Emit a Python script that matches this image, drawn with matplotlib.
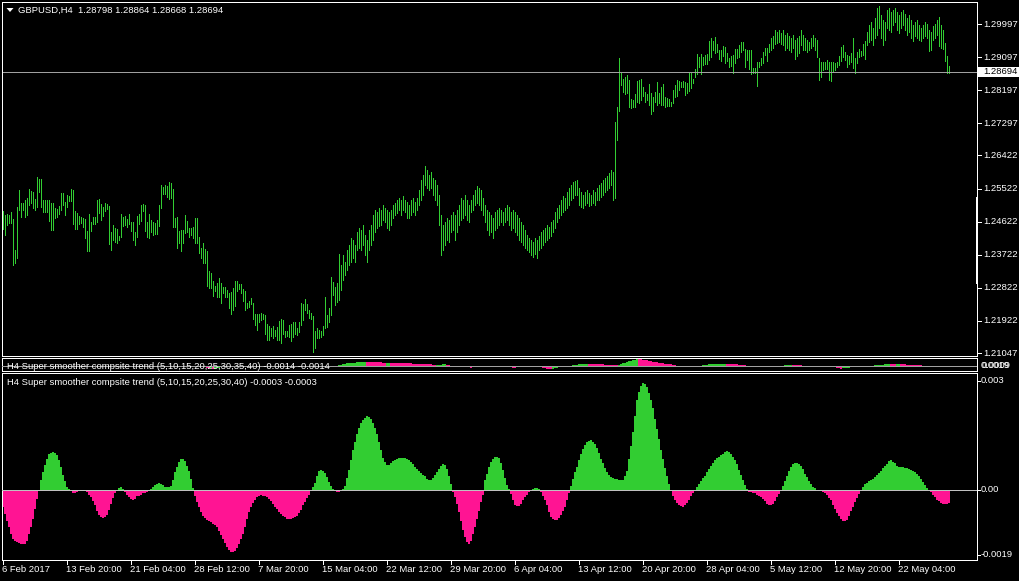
import matplotlib
matplotlib.use("Agg")
import matplotlib.pyplot as plt
from matplotlib.patches import Rectangle, Polygon
from matplotlib.transforms import blended_transform_factory as blend
import numpy as np

# ---------------- data (GBPUSD H4 bars, high/low) ----------------
highs = [
    1.2491,1.2480,1.2483,1.2480,1.2488,1.2469,1.2385,1.2502,1.2548,1.2513,
    1.2513,1.2521,1.2526,1.2551,1.2545,1.2543,1.2524,1.2584,1.2578,1.2578,
    1.2521,1.2521,1.2521,1.2521,1.2513,1.2513,1.2499,1.2497,1.2505,1.2540,
    1.2540,1.2516,1.2535,1.2532,1.2551,1.2548,1.2491,1.2486,1.2477,1.2475,
    1.2472,1.2469,1.2437,1.2483,1.2461,1.2475,1.2475,1.2521,1.2524,1.2510,
    1.2502,1.2513,1.2510,1.2505,1.2434,1.2453,1.2445,1.2442,1.2423,1.2483,
    1.2475,1.2477,1.2469,1.2483,1.2461,1.2461,1.2434,1.2477,1.2483,1.2507,
    1.2510,1.2507,1.2461,1.2483,1.2467,1.2461,1.2458,1.2467,1.2507,1.2562,
    1.2556,1.2562,1.2559,1.2570,1.2567,1.2551,1.2472,1.2475,1.2437,1.2439,
    1.2439,1.2480,1.2464,1.2445,1.2445,1.2448,1.2472,1.2472,1.2420,1.2390,
    1.2404,1.2388,1.2382,1.2328,1.2322,1.2301,1.2287,1.2295,1.2309,1.2295,
    1.2284,1.2284,1.2276,1.2268,1.2271,1.2282,1.2301,1.2301,1.2293,1.2293,
    1.2279,1.2273,1.2241,1.2246,1.2254,1.2241,1.2211,1.2211,1.2211,1.2214,
    1.2211,1.2208,1.2184,1.2178,1.2173,1.2178,1.2167,1.2176,1.2192,1.2197,
    1.2195,1.2165,1.2165,1.2181,1.2184,1.2189,1.2189,1.2173,1.2189,1.2241,
    1.2238,1.2252,1.2238,1.2222,1.2214,1.2205,1.2165,1.2173,1.2167,1.2165,
    1.2178,1.2257,1.2208,1.2227,1.2312,1.2298,1.2284,1.2295,1.2374,
    1.2344,1.2371,1.2352,1.2385,1.2399,1.2418,1.2412,1.2399,1.2434,1.2445,
    1.2439,1.2453,1.2426,1.2412,1.2439,1.2453,1.2480,1.2494,1.2488,1.2499,
    1.2494,1.2507,1.2499,1.2494,1.2488,1.2494,1.2507,1.2513,1.2521,1.2526,
    1.2521,1.2532,1.2521,1.2516,1.2507,1.2521,1.2526,1.2516,1.2526,1.2548,
    1.2575,1.2589,1.2613,1.2603,1.2589,1.2597,1.2581,1.2575,1.2562,1.2535,
    1.2480,1.2453,1.2461,1.2472,1.2467,1.2480,1.2488,1.2480,1.2494,1.2507,
    1.2526,1.2521,1.2535,1.2521,1.2507,1.2521,1.2535,1.2548,1.2559,1.2554,
    1.2548,1.2526,1.2507,1.2494,1.2488,1.2480,1.2472,1.2488,1.2494,1.2499,
    1.2494,1.2488,1.2499,1.2507,1.2502,1.2488,1.2494,1.2488,1.2480,1.2472,
    1.2461,1.2453,1.2439,1.2426,1.2418,1.2412,1.2407,1.2418,1.2412,1.2423,
    1.2434,1.2439,1.2445,1.2453,1.2448,1.2461,1.2467,1.2488,1.2499,1.2507,
    1.2521,1.2532,1.2526,1.2543,1.2554,1.2562,1.2570,1.2573,1.2575,1.2554,
    1.2543,1.2535,1.2543,1.2548,1.2540,1.2535,1.2548,1.2543,1.2554,1.2562,
    1.2567,1.2575,1.2581,1.2586,1.2594,1.2603,1.2597,1.2733,1.2774,1.2907,
    1.2866,1.2850,1.2856,1.2861,1.2847,1.2796,1.2793,1.2809,1.2845,1.2847,
    1.2850,1.2828,1.2815,1.2809,1.2837,1.2812,1.2801,1.2815,1.2842,1.2812,
    1.2828,1.2837,1.2801,1.2798,1.2796,1.2788,1.2820,1.2834,1.2847,1.2845,
    1.2842,1.2845,1.2842,1.2839,1.2866,1.2866,1.2850,1.2877,1.2918,1.2910,
    1.2918,1.2910,1.2915,1.2918,1.2953,1.2962,1.2953,1.2964,1.2945,1.2929,
    1.2929,1.2940,1.2937,1.2921,1.2907,1.2913,1.2915,1.2932,1.2932,1.2943,
    1.2951,1.2951,1.2932,1.2929,1.2929,1.2929,1.2880,1.2880,1.2896,1.2896,
    1.2907,1.2924,1.2934,1.2934,1.2945,1.2962,1.2967,1.2983,1.2978,1.2983,
    1.2975,1.2983,1.2970,1.2975,1.2967,1.2962,1.2970,1.2956,1.2962,1.2967,
    1.2983,1.2970,1.2962,1.2956,1.2951,1.2962,1.2970,1.2962,1.2956,1.2907,
    1.2896,1.2896,1.2896,1.2902,1.2896,1.2896,1.2896,1.2894,1.2896,1.2913,
    1.2937,1.2943,1.2924,1.2915,1.2913,1.2921,1.2962,1.2907,1.2924,1.2932,
    1.2926,1.2945,1.2953,1.2978,1.2997,1.3005,1.2989,1.3016,1.3043,1.3049,
    1.3024,1.3011,1.3005,1.3038,1.3043,1.3032,1.3038,1.3043,1.3032,1.3024,
    1.3032,1.3038,1.3027,1.3016,1.3024,1.3011,1.2997,1.3005,1.3011,1.2997,
    1.2989,1.2997,1.3005,1.2999,1.2983,1.2978,1.2994,1.2999,1.3011,1.3019,
    1.2997,1.2983,1.2948,1.2913,1.28864,
]

lows = [
    1.2442,1.2426,1.2453,1.2458,1.2458,1.2344,1.2350,1.2363,1.2494,1.2475,
    1.2494,1.2475,1.2480,1.2507,1.2513,1.2499,1.2494,1.2502,1.2543,1.2502,
    1.2488,1.2488,1.2488,1.2464,1.2439,1.2439,1.2472,1.2475,1.2483,1.2494,
    1.2507,1.2480,1.2502,1.2518,1.2518,1.2456,1.2442,1.2442,1.2456,1.2458,
    1.2448,1.2418,1.2382,1.2382,1.2437,1.2456,1.2456,1.2461,1.2486,1.2467,
    1.2477,1.2491,1.2497,1.2401,1.2385,1.2412,1.2407,1.2404,1.2412,1.2420,
    1.2450,1.2453,1.2448,1.2456,1.2437,1.2412,1.2399,1.2420,1.2456,1.2464,
    1.2491,1.2437,1.2420,1.2418,1.2434,1.2426,1.2429,1.2429,1.2450,1.2499,
    1.2537,1.2537,1.2529,1.2524,1.2526,1.2448,1.2448,1.2390,1.2404,1.2382,
    1.2404,1.2431,1.2434,1.2420,1.2426,1.2418,1.2404,1.2404,1.2377,1.2363,
    1.2350,1.2350,1.2287,1.2282,1.2282,1.2260,1.2273,1.2257,1.2257,1.2241,
    1.2268,1.2257,1.2257,1.2227,1.2211,1.2222,1.2233,1.2273,1.2279,1.2268,
    1.2246,1.2222,1.2227,1.2230,1.2238,1.2197,1.2181,1.2167,1.2189,1.2195,
    1.2197,1.2157,1.2140,1.2140,1.2151,1.2146,1.2151,1.2140,1.2140,1.2132,
    1.2157,1.2148,1.2151,1.2148,1.2137,1.2148,1.2157,1.2154,1.2162,1.2181,
    1.2195,1.2222,1.2214,1.2200,1.2197,1.2108,1.2118,1.2146,1.2146,1.2148,
    1.2154,1.2173,1.2176,1.2189,1.2208,1.2263,1.2235,1.2244,1.2249,
    1.2276,1.2303,1.2317,1.2331,1.2344,1.2352,1.2363,1.2352,1.2385,1.2390,
    1.2385,1.2399,1.2371,1.2352,1.2385,1.2399,1.2412,1.2434,1.2445,1.2450,
    1.2453,1.2467,1.2461,1.2445,1.2439,1.2453,1.2472,1.2480,1.2486,1.2494,
    1.2480,1.2494,1.2488,1.2472,1.2472,1.2480,1.2488,1.2480,1.2494,1.2507,
    1.2521,1.2535,1.2562,1.2554,1.2548,1.2554,1.2535,1.2521,1.2507,1.2453,
    1.2371,1.2385,1.2399,1.2412,1.2407,1.2434,1.2439,1.2412,1.2434,1.2453,
    1.2467,1.2472,1.2480,1.2467,1.2461,1.2488,1.2494,1.2507,1.2513,1.2507,
    1.2494,1.2480,1.2461,1.2439,1.2426,1.2434,1.2418,1.2439,1.2445,1.2453,
    1.2461,1.2453,1.2461,1.2467,1.2453,1.2439,1.2445,1.2434,1.2426,1.2412,
    1.2407,1.2399,1.2390,1.2385,1.2380,1.2371,1.2366,1.2374,1.2363,1.2385,
    1.2390,1.2399,1.2407,1.2412,1.2418,1.2423,1.2434,1.2445,1.2461,1.2472,
    1.2480,1.2488,1.2494,1.2499,1.2507,1.2521,1.2526,1.2535,1.2535,1.2507,
    1.2502,1.2499,1.2507,1.2513,1.2505,1.2507,1.2513,1.2507,1.2521,1.2521,
    1.2529,1.2535,1.2543,1.2548,1.2554,1.2562,1.2521,1.2526,1.2684,1.2763,
    1.2834,1.2815,1.2809,1.2812,1.2774,1.2771,1.2774,1.2774,1.2788,1.2785,
    1.2793,1.2804,1.2788,1.2793,1.2779,1.2755,1.2763,1.2788,1.2779,1.2785,
    1.2779,1.2779,1.2774,1.2777,1.2777,1.2777,1.2785,1.2801,1.2804,1.2820,
    1.2828,1.2828,1.2807,1.2812,1.2817,1.2826,1.2839,1.2856,1.2864,1.2883,
    1.2864,1.2888,1.2891,1.2891,1.2902,1.2910,1.2929,1.2921,1.2924,1.2905,
    1.2899,1.2913,1.2894,1.2899,1.2883,1.2885,1.2866,1.2894,1.2907,1.2910,
    1.2924,1.2929,1.2883,1.2902,1.2877,1.2864,1.2866,1.2866,1.2831,1.2883,
    1.2888,1.2894,1.2915,1.2899,1.2924,1.2929,1.2934,1.2945,1.2948,1.2951,
    1.2945,1.2943,1.2929,1.2934,1.2929,1.2924,1.2934,1.2905,1.2913,1.2921,
    1.2943,1.2929,1.2929,1.2924,1.2929,1.2934,1.2940,1.2929,1.2910,1.2847,
    1.2856,1.2875,1.2877,1.2877,1.2847,1.2845,1.2869,1.2875,1.2883,1.2888,
    1.2899,1.2910,1.2902,1.2883,1.2891,1.2896,1.2880,1.2866,1.2894,1.2910,
    1.2913,1.2915,1.2905,1.2943,1.2951,1.2956,1.2943,1.2962,1.2970,1.2989,
    1.2962,1.2943,1.2956,1.2989,1.2983,1.2978,1.2997,1.3005,1.2983,1.2975,
    1.2989,1.2997,1.2983,1.2970,1.2978,1.2962,1.2953,1.2967,1.2962,1.2956,
    1.2953,1.2962,1.2967,1.2962,1.2926,1.2929,1.2956,1.2962,1.2970,1.2940,
    1.2934,1.2932,1.2899,1.2866,1.28668,
]

bid_price = 1.28694
price_ticks = [1.29997, 1.29097, 1.28197, 1.27297, 1.26422, 1.25522,
               1.24622, 1.23722, 1.22822, 1.21922, 1.21047]

# Super smoother composite trend (5..40), units of 1e-4
trend_e4 = [
    -4.9,-6.7,-8.6,-10.4,-12.2,-13.6,-14.3,-14.5,-14.8,-15.0,
    -15.1,-15.0,-14.1,-12.2,-10.4,-8.1,-5.3,-2.6,-0.1,2.5,
    4.8,6.8,8.5,9.7,10.1,10.3,10.1,9.4,8.0,6.2,
    4.1,2.3,0.8,0.05,-0.5,-0.9,-1.0,-0.6,-0.3,-0.1,
    -0.05,-0.3,-0.7,-1.4,-2.1,-3.2,-4.4,-5.8,-6.9,-7.6,
    -7.8,-7.5,-6.9,-5.6,-4.0,-2.4,-1.0,-0.3,0.4,0.6,
    0.2,-0.7,-1.4,-2.1,-2.6,-2.8,-2.5,-1.9,-1.7,-1.4,
    -1.1,-0.9,-0.6,-0.3,0.2,0.8,1.3,1.6,1.7,1.6,
    1.3,0.8,0.6,0.7,1.1,2.5,4.8,6.3,7.5,8.3,
    8.5,7.8,6.6,5.2,2.8,0.5,-1.7,-3.5,-4.9,-6.3,
    -7.4,-7.9,-8.4,-8.7,-9.0,-9.5,-9.9,-10.4,-11.3,-12.4,
    -13.6,-14.7,-15.7,-16.6,-17.1,-17.3,-16.9,-16.2,-15.0,-13.6,
    -12.2,-10.4,-8.1,-6.3,-4.9,-3.8,-2.8,-2.1,-1.7,-1.6,
    -1.7,-1.9,-2.2,-2.6,-3.2,-4.0,-4.7,-5.4,-6.2,-6.8,
    -7.4,-7.7,-8.0,-8.2,-8.1,-7.8,-7.6,-7.2,-6.4,-5.6,
    -4.4,-3.5,-2.4,-1.4,-0.5,0.6,1.8,3.7,5.0,5.4,
    5.2,4.5,3.4,2.2,1.0,0.2,-0.3,-0.6,-0.8,-0.5,
    0.2,1.1,3.2,5.4,8.0,10.8,13.2,15.4,17.0,18.3,
    19.2,19.8,20.1,20.0,19.3,18.3,17.0,15.2,13.1,10.8,
    8.7,7.5,6.8,6.7,7.3,7.8,8.2,8.5,8.6,8.7,
    8.6,8.6,8.3,8.0,7.5,6.9,6.2,5.6,5.1,4.5,
    4.1,3.6,2.9,2.6,2.7,3.2,4.0,4.8,5.7,6.5,
    6.9,6.7,5.6,3.7,1.6,-0.7,-2.1,-4.0,-6.3,-8.7,
    -11.1,-13.2,-14.5,-15.0,-14.3,-12.2,-10.4,-8.1,-5.8,-3.5,
    -1.4,2.5,4.3,6.2,7.5,8.5,9.0,9.0,8.6,7.3,
    5.4,3.2,1.3,0.2,-1.2,-3.0,-4.2,-4.6,-4.5,-4.0,
    -3.0,-2.1,-1.4,-0.7,-0.3,0.1,0.5,0.5,0.1,-0.7,
    -1.7,-3.0,-4.4,-6.3,-7.5,-8.1,-8.5,-8.4,-7.8,-6.9,
    -5.8,-4.7,-3.0,-1.0,1.1,2.9,4.8,6.3,8.0,9.7,
    11.2,12.3,13.0,13.4,13.6,13.2,12.6,11.5,10.0,8.5,
    7.3,6.0,4.8,4.0,3.5,3.1,2.9,2.8,2.6,2.5,
    2.7,3.6,5.2,8.5,12.1,15.8,20.1,24.6,26.9,28.6,
    29.2,29.0,28.1,26.6,24.6,22.3,19.5,16.7,14.0,11.0,
    8.5,5.9,3.6,1.4,-0.05,-1.9,-2.9,-3.7,-4.2,-4.6,
    -4.8,-4.2,-3.6,-2.9,-1.9,-1.0,-0.3,0.8,1.6,2.3,
    3.1,3.8,4.8,5.7,6.6,7.4,8.0,8.6,9.0,9.5,
    9.9,10.3,10.5,10.2,9.7,8.9,8.2,6.9,5.4,3.9,
    2.5,1.2,0.2,-0.6,-0.8,-1.0,-1.1,-1.4,-1.7,-2.1,
    -2.7,-3.3,-4.0,-4.3,-4.4,-4.0,-3.1,-2.2,-1.3,-0.3,
    0.9,2.4,3.8,5.1,6.3,6.9,7.2,7.4,7.1,6.6,
    5.6,4.4,3.4,2.4,1.4,0.7,0.3,-0.1,-0.4,-0.5,
    -0.6,-1.0,-1.5,-2.3,-3.0,-4.3,-5.4,-6.4,-7.4,-8.2,
    -8.6,-8.6,-8.3,-7.3,-6.0,-4.9,-3.5,-2.3,-1.2,-0.3,
    0.6,1.5,1.9,2.3,2.6,3.0,3.5,4.0,4.5,5.2,
    5.9,6.5,7.1,7.8,8.0,7.6,7.3,6.6,6.2,6.2,
    6.1,6.0,5.8,5.6,5.3,5.2,4.8,4.3,3.7,2.9,
    2.0,1.2,0.5,-0.2,-0.6,-1.4,-2.1,-2.8,-3.3,-3.8,
    -4.0,-4.0,-4.0,-3.8,
]

# Super smoother composite trend (5..40) small pane, units of 1e-3
mid_e3 = [
    0,0,0,0,0,0,0,0,0,0,0,0,0,0,0,0,0,0,0,0,
    0,0,0,0,0,0,0,0,0,0,0,0,0,0,0,0,0,0,0,0,
    0,0,0,0,0,0,0,0,0,0,0,0,0,0,0,0,0,0,0,0,
    0,0,0,0,0,0,0,0,0,0,0,0,0,0,0,0,0,0,0,0,
    0,0,0,0,0,0,0,0,0,0,0,0,0,0,0,0,0,0,0,0,
    -0.2,-0.3,-0.4,-0.5,-0.5,-0.6,-0.6,-0.5,-0.4,-0.3,-0.2,-0.1,0,0,0,0,
    0,0,0,0,0,0,0,0,0,0,0,0,0,0,0,0,0,0,0,0,
    0,0,0,0,0,0,0,0,0,0,0,0,0,0,0,0,0,0,0,0,
    0,0,0,0,0,0,0,0,0,0,0,
    0.1,0.2,0.3,0.4,0.45,0.6,0.65,0.7,0.75,0.8,0.85,0.9,0.95,1.0,1.0,
    0.98,0.96,0.94,0.92,0.9,0.88,0.86,0.84,0.82,0.8,0.81,0.82,
    0.8,0.78,0.76,0.74,0.72,0.7,0.68,0.66,0.64,0.62,0.6,0.58,0.55,
    0.5,0.48,0.46,0.44,0.42,0.4,0.38,0.36,0.34,0.32,
    0.33,0.34,0.35,0.36,0.37,0.3,0.2,0.1,
    0,0,0,0,0,-0.1,-0.2,-0.3,-0.35,-0.4,-0.3,-0.2,-0.1,
    0,0,0,0,0,0,0,0,0,0,0,0,0,0,0,
    -0.1,-0.25,-0.4,-0.45,-0.35,-0.25,-0.15,-0.05,0,0,0,0,0,0,
    -0.1,-0.2,-0.3,-0.4,-0.5,-0.6,-0.7,-0.75,-0.65,-0.55,-0.45,-0.35,-0.25,-0.15,0,0,0,0,
    0.2,0.3,0.35,0.4,0.45,0.5,0.52,0.55,0.53,0.51,0.49,0.47,0.45,0.43,0.4,0.38,0.35,0.33,0.31,0.3,0.28,0.27,0.26,
    0.35,0.5,0.65,0.8,0.95,1.1,1.25,1.4,1.5,1.6,
    1.58,1.55,1.5,1.45,1.35,1.25,1.15,1.05,0.95,0.85,0.75,0.7,0.6,0.55,0.5,0.45,0.4,0.35,0.3,
    0,0,0,0,0,0,0,0,0,0,0,0,
    0.1,0.2,0.3,0.35,0.4,0.42,0.44,0.46,0.48,0.5,0.52,0.54,0.55,0.53,0.5,0.47,0.4,0.38,0.36,0.34,0.32,0.3,0.28,
    0,0,0,0,0,0,0,0,0,0,0,0,0,0,0,0,0,0,
    0.1,0.2,0.25,0.3,0.32,0.3,0.27,0.24,0.2,0.15,
    0,0,0,0,0,0,0,0,0,0,0,
    -0.1,-0.15,-0.2,-0.25,-0.3,-0.35,-0.4,-0.5,-0.6,-0.55,-0.5,-0.45,-0.4,-0.3,-0.25,-0.2,
    0,0,0,0,0,0,0,0,
    0.1,0.15,0.2,0.25,0.3,0.35,0.4,0.45,0.5,0.48,0.46,0.44,0.46,0.48,0.45,0.42,0.4,0.35,0.33,0.31,0.29,0.27,0.25,0.23,0.21,
    0,0,0,0,0,0,
    -0.1,-0.15,-0.2,-0.25,-0.3,-0.3,-0.35,-0.35,
]

time_labels = ['6 Feb 2017', '13 Feb 20:00', '21 Feb 04:00', '28 Feb 12:00',
               '7 Mar 20:00', '15 Mar 04:00', '22 Mar 12:00', '29 Mar 20:00',
               '6 Apr 04:00', '13 Apr 12:00', '20 Apr 20:00', '28 Apr 04:00',
               '5 May 12:00', '12 May 20:00', '22 May 04:00']
bars_per_label = 32

main_title = "GBPUSD,H4  1.28798 1.28864 1.28668 1.28694"
mid_title = "H4 Super smoother compsite trend (5,10,15,20,25,30,35,40) -0.0014 -0.0014"
low_title = "H4 Super smoother compsite trend (5,10,15,20,25,30,40) -0.0003 -0.0003"

# ---------------- styling ----------------
W, H = 1020, 581
BG, FG = "black", "white"
GREEN, PINK, GREY = "#32CD32", "#FF1493", "#A0A0A0"
plt.rcParams['font.family'] = ['Liberation Sans', 'DejaVu Sans']
FS = 6.8
PX = 0.72  # 1 pixel in points

fig = plt.figure(figsize=(W / 100, H / 100), dpi=100, facecolor=BG)


def fx(x):
    return x / W


def fy(y):
    return 1 - y / H


XLIM = (-0.65, 486.85)


def add_panel(x0, y0, x1, y1):
    ax = fig.add_axes([fx(x0), fy(y1), (x1 - x0) / W, (y1 - y0) / H])
    ax.set_facecolor(BG)
    for s in ax.spines.values():
        s.set_color(FG)
        s.set_linewidth(PX)
    ax.set_xticks([])
    ax.set_yticks([])
    ax.set_xlim(*XLIM)
    return ax


# ---- main price panel ----
ax1 = add_panel(2, 2, 977, 356)
n = min(len(highs), len(lows))
idx = np.arange(n)
ax1.vlines(idx, lows[:n], highs[:n], colors=GREEN, linewidth=PX, antialiased=False)
ax1.set_ylim(1.209668, 1.305956)
ax1.axhline(bid_price, color=GREY, lw=PX, antialiased=False)

tr1 = blend(ax1.transAxes, ax1.transData)
for p in price_ticks:
    ax1.plot([1.0, 1.0 + 4 / 975], [p, p], color=FG, lw=PX, transform=tr1, clip_on=False)
    ax1.text(1.0 + 6 / 975, p, f"{p:.5f}", color=FG, fontsize=FS, va='center', ha='left',
             transform=tr1, clip_on=False)
# bid price box
ax1.add_patch(Rectangle((1.0 + 1.5 / 975, bid_price - 0.00128), 45 / 975, 0.00256,
                        transform=tr1, facecolor=FG, edgecolor='none', clip_on=False, zorder=5))
ax1.text(1.0 + 6 / 975, bid_price, f"{bid_price:.5f}", color='black', fontsize=FS,
         va='center', ha='left', transform=tr1, clip_on=False, zorder=6)

# right-edge scroll marker
fig.patches.append(Rectangle((fx(975.8), fy(284)), 2.6 / W, 87 / H, transform=fig.transFigure,
                             facecolor=FG, edgecolor='none'))

# title + triangle
fig.patches.append(Polygon([(fx(6.5), fy(8)), (fx(13.5), fy(8)), (fx(10), fy(12))],
                           closed=True, transform=fig.transFigure, facecolor=FG, edgecolor='none'))
fig.text(fx(18), fy(10.5), main_title, color=FG, fontsize=FS, va='center', ha='left')

# ---- small indicator panel ----
ax2 = add_panel(2, 358, 977, 371)
mv = np.array(mid_e3) * 1e-3
mi = np.arange(len(mv))
mcol = [GREEN if (k == 0 or mv[k] >= mv[k - 1]) else PINK for k in range(len(mv))]
ax2.bar(mi, mv, width=1.0, color=mcol, linewidth=0, antialiased=False)
ax2.axhline(0, color=GREY, lw=PX, zorder=3)
ax2.set_ylim(-0.00119, 0.0019)
fig.text(fx(7), fy(366.5), mid_title, color=FG, fontsize=FS, va='center', ha='left')
fig.text(fx(981), fy(365.3), "0.0019", color=FG, fontsize=FS, va='center', ha='left')
fig.text(fx(981.5), fy(365.8), "0.0009", color=FG, fontsize=FS, va='center', ha='left')

# ---- lower indicator panel ----
ax3 = add_panel(2, 373, 977, 560)
tv = np.array(trend_e4) * 1e-4
ti = np.arange(len(tv))
tcol = [GREEN if v >= 0 else PINK for v in tv]
ax3.bar(ti, tv, width=1.0, color=tcol, linewidth=0, antialiased=False)
ax3.axhline(0, color="#C0C0C0", lw=PX, zorder=3)
ax3.set_ylim(-0.0019405, 0.0032067)
fig.text(fx(7), fy(382.5), low_title, color=FG, fontsize=FS, va='center', ha='left')

for lab, ypx in [("0.003", 380.7), ("0.00", 489.5), ("-0.0019", 554.7)]:
    fig.text(fx(981), fy(ypx), lab, color=FG, fontsize=FS, va='center', ha='left')
    fig.lines.append(plt.Line2D([fx(977), fx(980)], [fy(ypx), fy(ypx)], color=FG, lw=PX,
                                transform=fig.transFigure))

# time axis
tr3 = blend(ax3.transData, ax3.transAxes)
for k, lab in enumerate(time_labels):
    b = k * bars_per_label
    ax3.plot([b, b], [0, -4 / 187], color=FG, lw=PX, transform=tr3, clip_on=False)
    ax3.annotate(lab, xy=(b, 0), xycoords=tr3, xytext=(-1, -9.5), textcoords='offset pixels',
                 color=FG, fontsize=FS, ha='left', va='center', annotation_clip=False)

fig.savefig("out.png", dpi=100, facecolor=BG)
